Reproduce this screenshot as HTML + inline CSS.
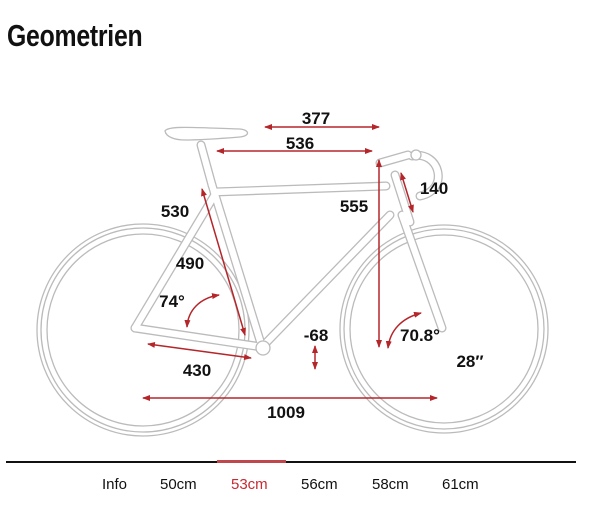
<!DOCTYPE html>
<html><head><meta charset="utf-8"><style>
html,body{margin:0;padding:0;background:#fff;}
body{width:602px;height:508px;position:relative;overflow:hidden;font-family:"Liberation Sans",sans-serif;}
.t{position:absolute;left:7px;top:18px;font-family:"Liberation Sans",sans-serif;font-weight:bold;font-size:31px;color:#111;letter-spacing:-0.3px;transform:scaleX(0.8);transform-origin:0 0;}
.tabs{position:absolute;top:476px;font-size:15px;color:#111;}
</style></head><body>
<div class="t">Geometrien</div>
<svg width="602" height="508" style="position:absolute;left:0;top:0" xmlns="http://www.w3.org/2000/svg">
<defs>
<marker id="a" markerWidth="8" markerHeight="6" refX="7" refY="3" orient="auto-start-reverse" markerUnits="userSpaceOnUse"><path d="M0,0 L8,3 L0,6 z" fill="#b5262b"/></marker>
</defs>
<g fill="none" stroke="#bbb" stroke-width="1.3">
<circle cx="143" cy="330" r="106"/><circle cx="143" cy="330" r="102"/><circle cx="143" cy="330" r="96"/>
<circle cx="444" cy="329" r="104"/><circle cx="444" cy="329" r="100"/><circle cx="444" cy="329" r="94"/>
</g>
<g stroke-linecap="round" fill="none">
<g stroke="#bbb" stroke-width="9">
<line x1="201" y1="145" x2="212" y2="185"/>
<line x1="212" y1="185" x2="262" y2="347"/>
<line x1="214" y1="192" x2="386" y2="186"/>
<line x1="262" y1="347" x2="390" y2="215"/>
<line x1="135" y1="328" x2="214" y2="196"/>
<line x1="135" y1="328" x2="262" y2="347"/>
<line x1="395" y1="175" x2="410" y2="222"/>
<line x1="402" y1="215" x2="442" y2="328"/>
<line x1="380" y1="163" x2="408" y2="155"/>
<path d="M412,156 C440,150 450,190 420,196"/>
</g>
<g stroke="#fff" stroke-width="6.4">
<line x1="201" y1="145" x2="212" y2="185"/>
<line x1="212" y1="185" x2="262" y2="347"/>
<line x1="214" y1="192" x2="386" y2="186"/>
<line x1="262" y1="347" x2="390" y2="215"/>
<line x1="135" y1="328" x2="214" y2="196"/>
<line x1="135" y1="328" x2="262" y2="347"/>
<line x1="395" y1="175" x2="410" y2="222"/>
<line x1="402" y1="215" x2="442" y2="328"/>
<line x1="380" y1="163" x2="408" y2="155"/>
<path d="M412,156 C440,150 450,190 420,196"/>
</g>
</g>
<path d="M165,131 C168,125 200,128 240,129 C250,130 250,136 240,137 C215,139 200,140 185,140 C175,140 166,137 165,131 z" fill="#fff" stroke="#bbb" stroke-width="1.3"/>
<circle cx="263" cy="348" r="7" fill="#fff" stroke="#bbb" stroke-width="1.3"/>
<circle cx="416" cy="155" r="5" fill="#fff" stroke="#bbb" stroke-width="1.3"/>
<g stroke="#b5262b" stroke-width="1.5" fill="none" marker-start="url(#a)" marker-end="url(#a)">
<line x1="265" y1="127" x2="379" y2="127"/>
<line x1="217" y1="151" x2="372" y2="151"/>
<line x1="202" y1="189" x2="245" y2="335"/>
<line x1="379" y1="160" x2="379" y2="347"/>
<line x1="401" y1="173" x2="413" y2="212"/>
<line x1="315" y1="346" x2="315" y2="369"/>
<line x1="148" y1="344" x2="251" y2="358"/>
<line x1="143" y1="398" x2="437" y2="398"/>
<path d="M187,327 C188,310 200,298 219,295"/>
<path d="M388,348 C390,330 402,318 421,313"/>
</g>
<g font-family="Liberation Sans,sans-serif" font-weight="bold" font-size="17" fill="#111" text-anchor="middle">
<text x="316" y="124">377</text>
<text x="300" y="149">536</text>
<text x="175" y="217">530</text>
<text x="354" y="212">555</text>
<text x="434" y="194">140</text>
<text x="190" y="269">490</text>
<text x="172" y="307">74°</text>
<text x="316" y="341">-68</text>
<text x="420" y="341">70.8°</text>
<text x="470" y="367">28″</text>
<text x="197" y="376">430</text>
<text x="286" y="418">1009</text>
</g>
<rect x="6" y="461" width="570" height="2" fill="#111"/>
<rect x="217" y="460" width="69" height="3" fill="#c0484d"/>
</svg>
<div class="tabs" style="left:102px">Info</div>
<div class="tabs" style="left:160px">50cm</div>
<div class="tabs" style="left:231px;color:#c42b33">53cm</div>
<div class="tabs" style="left:301px">56cm</div>
<div class="tabs" style="left:372px">58cm</div>
<div class="tabs" style="left:442px">61cm</div>
</body></html>
